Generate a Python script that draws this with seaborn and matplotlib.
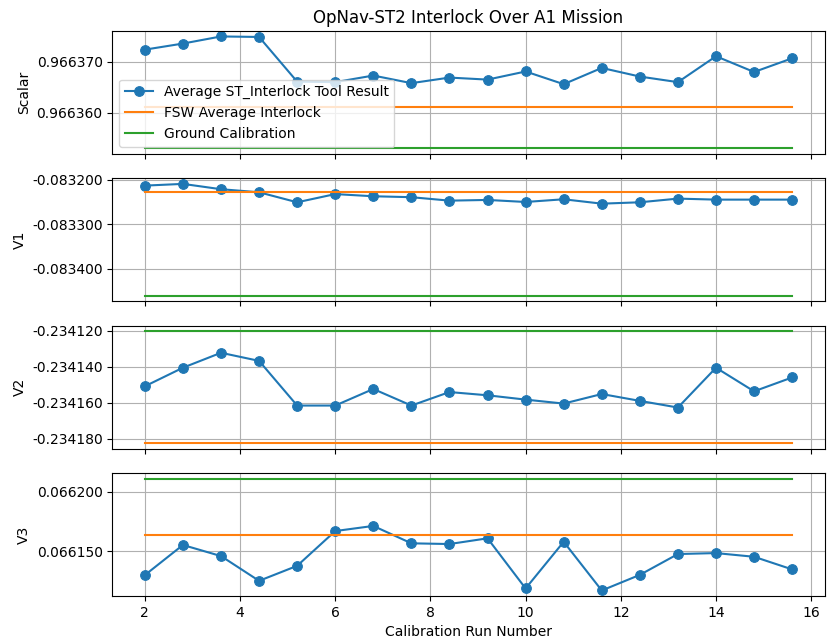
import numpy as np
import pandas as pd
import matplotlib
matplotlib.use('Agg')
import matplotlib.pyplot as plt
import seaborn as sns
from matplotlib.ticker import FormatStrFormatter, MultipleLocator

# calibration runs
runs = [2.0, 2.8, 3.6, 4.4, 5.2, 6.0, 6.8, 7.6, 8.4, 9.2, 10.0, 10.8, 11.6, 12.4, 13.2, 14.0, 14.8, 15.6]

# average ST_Interlock tool result per component
scalar = [0.9663724, 0.9663736, 0.9663750, 0.9663749, 0.9663661, 0.9663660, 0.9663673, 0.9663658, 0.9663669,
          0.9663665, 0.9663681, 0.9663656, 0.9663688, 0.9663671, 0.9663660, 0.9663711, 0.9663680, 0.9663707]
v1 = [-0.0832129, -0.0832090, -0.0832210, -0.0832279, -0.0832505, -0.0832320, -0.0832369, -0.0832390, -0.0832468,
      -0.0832452, -0.0832498, -0.0832437, -0.0832536, -0.0832505, -0.0832422, -0.0832445, -0.0832445, -0.0832445]
v2 = [-0.2341509, -0.2341406, -0.2341323, -0.2341368, -0.2341616, -0.2341616, -0.2341524, -0.2341616, -0.2341541,
      -0.2341559, -0.2341583, -0.2341605, -0.2341552, -0.2341590, -0.2341627, -0.2341406, -0.2341537, -0.2341460]
v3 = [0.0661298, 0.0661551, 0.0661458, 0.0661250, 0.0661376, 0.0661668, 0.0661711, 0.0661565, 0.0661559,
      0.0661607, 0.0661186, 0.0661578, 0.0661169, 0.0661300, 0.0661475, 0.0661483, 0.0661452, 0.0661346]

# reference values (scalar, v1, v2, v3)
fsw_avg = [0.9663612, -0.0832280, -0.2341824, 0.0661637]
ground_cal = [0.9663530, -0.0834610, -0.2341204, 0.0662107]

labels = ['Scalar', 'V1', 'V2', 'V3']
series = [scalar, v1, v2, v3]
tick_steps = [1e-5, 1e-4, 2e-5, 5e-5]

fig, axes = plt.subplots(4, 1, figsize=(8.27, 6.43), dpi=100, sharex=True)
plt.subplots_adjust(left=0.136, right=0.997, top=0.952, bottom=0.073, hspace=0.2)

for i, ax in enumerate(axes):
    df = pd.DataFrame({'run': runs, 'value': series[i],
                       'fsw': np.full(len(runs), fsw_avg[i]),
                       'ground': np.full(len(runs), ground_cal[i])})
    lab = i == 0
    sns.lineplot(data=df, x='run', y='value', ax=ax, color='#1f77b4', marker='o',
                 markersize=7, markeredgecolor='#1f77b4', linewidth=1.5,
                 label='Average ST_Interlock Tool Result' if lab else None, legend=False)
    sns.lineplot(data=df, x='run', y='fsw', ax=ax, color='#ff7f0e', linewidth=1.5,
                 label='FSW Average Interlock' if lab else None, legend=False)
    sns.lineplot(data=df, x='run', y='ground', ax=ax, color='#2ca02c', linewidth=1.5,
                 label='Ground Calibration' if lab else None, legend=False)
    ax.set_ylabel(labels[i])
    ax.set_xlabel('')
    ax.yaxis.set_major_locator(MultipleLocator(tick_steps[i]))
    ax.yaxis.set_major_formatter(FormatStrFormatter('%.6f'))
    ax.grid(True)
    if lab:
        ax.legend(loc='lower left')

axes[0].set_title('OpNav-ST2 Interlock Over A1 Mission')
axes[-1].set_xlabel('Calibration Run Number')

plt.savefig('out.png')
